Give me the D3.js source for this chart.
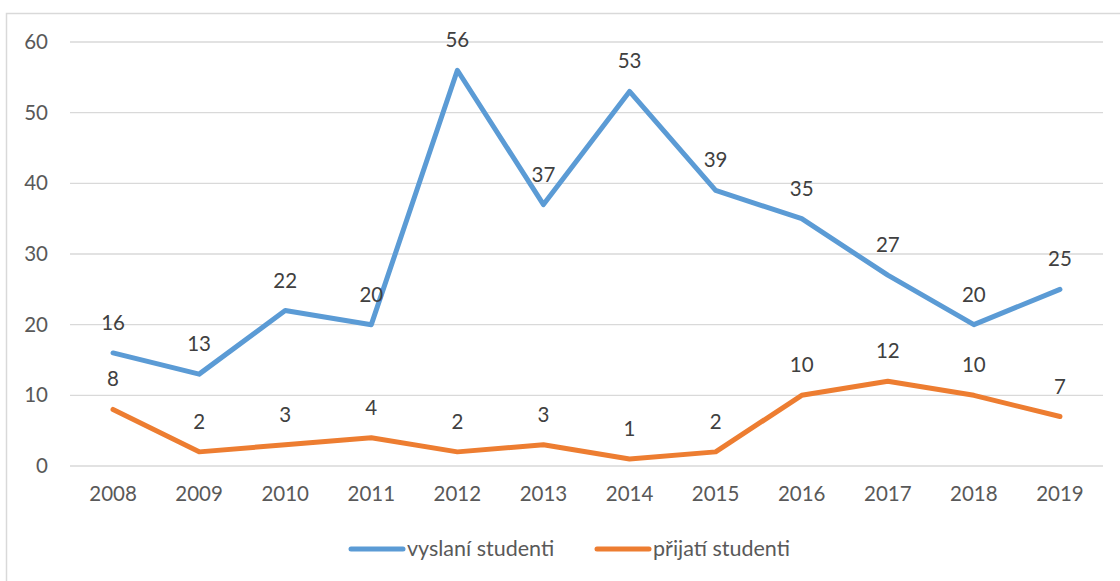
<!DOCTYPE html>
<html><head><meta charset="utf-8">
<script src="https://cdn.jsdelivr.net/npm/d3@7"></script>
<style>body{margin:0;background:#fff}svg{display:block}</style>
</head><body>
<script>
const years = ["2008","2009","2010","2011","2012","2013","2014","2015","2016","2017","2018","2019"];
const sent = [16,13,22,20,56,37,53,39,35,27,20,25];
const received = [8,2,3,4,2,3,1,2,10,12,10,7];
const yTicks = [0,10,20,30,40,50,60];
const seriesNames = ["vyslaní studenti","přijatí studenti"];
const colors = ["#5B9BD5","#ED7D31"];

const W=1120,H=581;
const font = "Lato, 'Open Sans', sans-serif";
const fs = 20.5;
const svg = d3.select("body").append("svg").attr("width",W).attr("height",H);
svg.append("rect").attr("x",6.5).attr("y",13.5).attr("width",W).attr("height",H)
  .attr("fill","none").attr("stroke","#d9d9d9").attr("stroke-width",1.5);

const x = d3.scaleBand().domain(years).range([70,1103]);
const y = d3.scaleLinear().domain([0,60]).range([466,42]);

const grid = svg.append("g");
grid.selectAll("line").data(yTicks).join("line")
  .attr("x1",70).attr("x2",1103).attr("y1",d=>y(d)).attr("y2",d=>y(d))
  .attr("stroke","#d9d9d9").attr("stroke-width",1.3);

const yAxis = svg.append("g").attr("transform","translate(48,0)")
  .call(d3.axisLeft(y).tickValues(yTicks).tickSize(0).tickPadding(0));
yAxis.select(".domain").remove();
yAxis.selectAll("text").attr("font-family",font).attr("font-size",fs).attr("fill","#595959");

const xAxis = svg.append("g").attr("transform","translate(0,466)")
  .call(d3.axisBottom(x).tickSize(0).tickPadding(20));
xAxis.select(".domain").remove();
xAxis.selectAll("text").attr("font-family",font).attr("font-size",fs).attr("fill","#595959");

const cx = d=>x(d)+x.bandwidth()/2;
[sent,received].forEach((vals,i)=>{
  const line = d3.line().x((d,j)=>cx(years[j])).y(d=>y(d));
  svg.append("path").datum(vals).attr("d",line).attr("fill","none")
    .attr("stroke",colors[i]).attr("stroke-width",5)
    .attr("stroke-linejoin","round").attr("stroke-linecap","round");
  svg.append("g").selectAll("text").data(vals).join("text")
    .attr("x",(d,j)=>cx(years[j])).attr("y",d=>y(d)-23)
    .attr("text-anchor","middle").attr("font-family",font).attr("font-size",fs)
    .attr("fill","#404040").text(d=>d);
});

const leg = svg.append("g");
const legX=[351,597];
seriesNames.forEach((n,i)=>{
  leg.append("line").attr("x1",legX[i]).attr("x2",legX[i]+52).attr("y1",549).attr("y2",549)
    .attr("stroke",colors[i]).attr("stroke-width",5).attr("stroke-linecap","round");
  leg.append("text").attr("x",legX[i]+56).attr("y",556).attr("font-family",font)
    .attr("font-size",21.5).attr("fill","#595959").text(n);
});
</script>
</body></html>
